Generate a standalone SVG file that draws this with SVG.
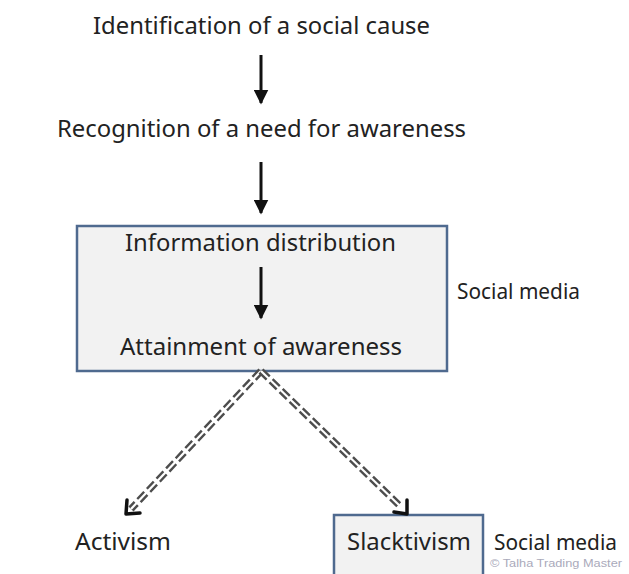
<svg xmlns="http://www.w3.org/2000/svg" width="629" height="574" viewBox="0 0 629 574">
<style>
.t{font-family:"Noto Sans","Liberation Sans",sans-serif;fill:#222;}
.big{font-size:24px;}
.mid{font-size:21px;}
.box{fill:#f2f2f2;stroke:#4f6a8f;stroke-width:2.5;}
.solid{stroke:#111;stroke-width:3;fill:none;}
.dashO{stroke:#4d4d4d;stroke-width:7;stroke-dasharray:10 4;fill:none;}
.dashI{stroke:#fff;stroke-width:2.2;fill:none;}
.chev{stroke:#111;stroke-width:3.5;fill:none;stroke-linecap:round;stroke-linejoin:round;}
</style>
<defs>
<marker id="ah" viewBox="0 0 10 10" refX="9" refY="5" markerWidth="5" markerHeight="5" markerUnits="strokeWidth" orient="auto">
<path d="M0,0 L10,5 L0,10 z" fill="#111"/>
</marker>
</defs>
<rect width="629" height="574" fill="#fff"/>
<g id="n1"><text class="t big" x="93" y="34" textLength="337" lengthAdjust="spacingAndGlyphs">Identification of a social cause</text></g>
<g id="n2"><text class="t big" x="57" y="137" textLength="409" lengthAdjust="spacingAndGlyphs">Recognition of a need for awareness</text></g>
<g id="n3">
<rect class="box" x="77" y="226" width="370" height="145"/>
<text class="t big" x="125" y="251" textLength="271" lengthAdjust="spacingAndGlyphs">Information distribution</text>
<text class="t big" x="120" y="355" textLength="282" lengthAdjust="spacingAndGlyphs">Attainment of awareness</text>
</g>
<g id="n4"><text class="t mid" x="457" y="299" textLength="123" lengthAdjust="spacingAndGlyphs">Social media</text></g>
<g id="n5"><text class="t big" x="75" y="550" textLength="96" lengthAdjust="spacingAndGlyphs">Activism</text></g>
<g id="n6">
<rect class="box" x="334" y="515" width="149" height="66"/>
<text class="t big" x="347" y="550" textLength="124" lengthAdjust="spacingAndGlyphs">Slacktivism</text>
</g>
<g id="n7"><text class="t mid" x="494" y="550" textLength="123" lengthAdjust="spacingAndGlyphs">Social media</text></g>
<g id="watermark"><text x="490" y="567" font-family="Liberation Sans, sans-serif" font-size="10" fill="#aab" textLength="132" lengthAdjust="spacingAndGlyphs">© Talha Trading Master</text></g>
<g id="connectors">
<line class="solid" x1="261" y1="55" x2="261" y2="103" marker-end="url(#ah)"/>
<line class="solid" x1="261" y1="162" x2="261" y2="213" marker-end="url(#ah)"/>
<line class="solid" x1="261" y1="267" x2="261" y2="318" marker-end="url(#ah)"/>
<line class="dashO" x1="261" y1="371" x2="131" y2="509"/>
<line class="dashI" x1="261" y1="371" x2="131" y2="509"/>
<line class="dashO" x1="261" y1="371" x2="401" y2="507"/>
<line class="dashI" x1="261" y1="371" x2="401" y2="507"/>
<path class="chev" d="M127,500 L126,514 L140,513"/>
<path class="chev" d="M394,512 L407,514 L407,500"/>
</g>
</svg>
